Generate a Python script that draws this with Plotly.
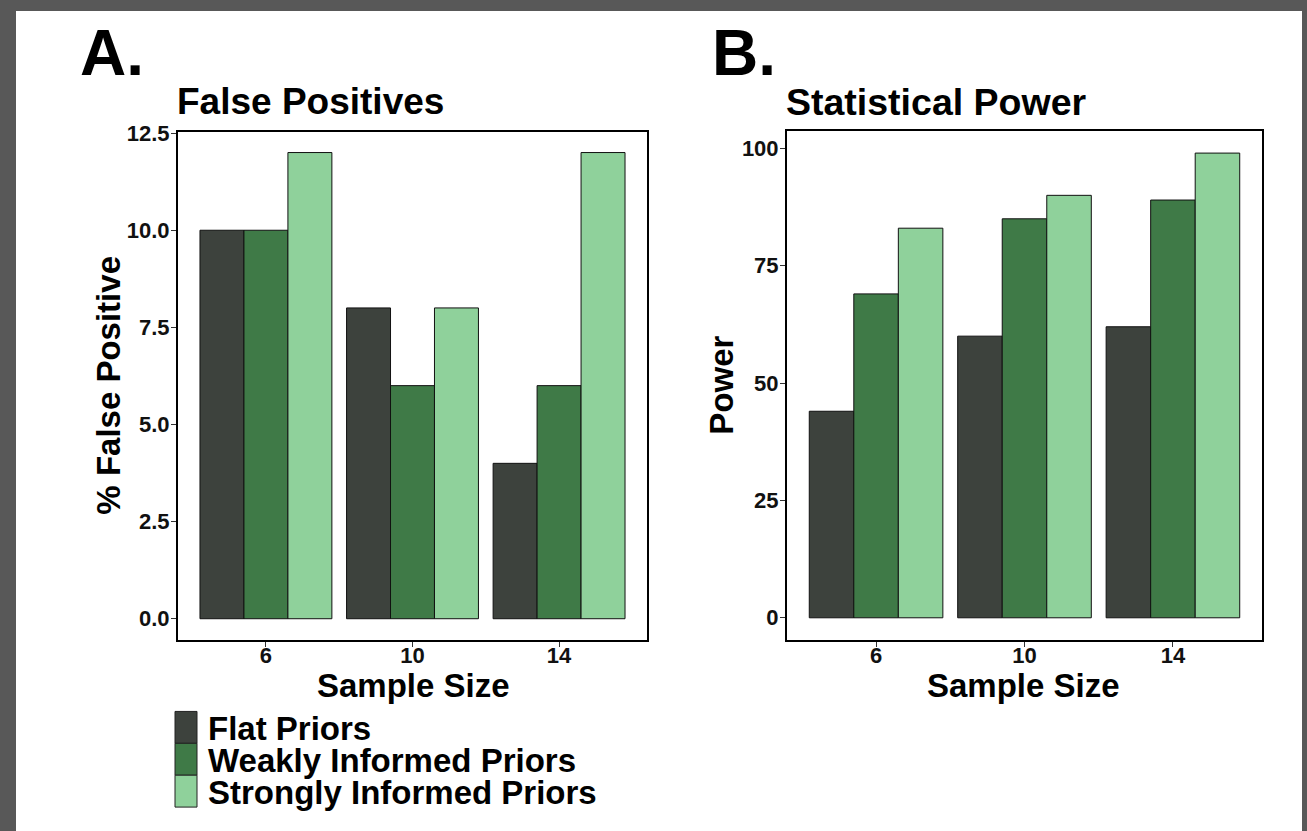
import plotly.graph_objects as go

W, H = 1307, 831

sample_sizes = ["6", "10", "14"]
series_names = ["Flat Priors", "Weakly Informed Priors", "Strongly Informed Priors"]
series_colors = ["#3d423d", "#3f7a47", "#8fd19b"]

fp_flat = [10, 8, 4]
fp_weak = [10, 6, 6]
fp_strong = [12, 8, 12]

pw_flat = [44, 60, 62]
pw_weak = [69, 85, 89]
pw_strong = [83, 90, 99]

fp_ticks = [0, 2.5, 5, 7.5, 10, 12.5]
pw_ticks = [0, 25, 50, 75, 100]

FONT = "Liberation Sans, Arial, sans-serif"


def px(x):
    return x / W


def py(y):
    yc = (y - 8) * 831 / 823
    return (H - yc) / H


fig = go.Figure()

for vals, name, col in zip([fp_flat, fp_weak, fp_strong], series_names, series_colors):
    fig.add_trace(go.Bar(x=sample_sizes, y=vals, name=name, marker=dict(color=col, line=dict(color="#111111", width=1)),
                         xaxis="x", yaxis="y", showlegend=False))
for vals, name, col in zip([pw_flat, pw_weak, pw_strong], series_names, series_colors):
    fig.add_trace(go.Bar(x=sample_sizes, y=vals, name=name, marker=dict(color=col, line=dict(color="#111111", width=1)),
                         xaxis="x2", yaxis="y2", showlegend=False))

axis_common = dict(showline=True, mirror=True, linecolor="black", linewidth=2, showgrid=False, zeroline=False,
                   ticks="outside", ticklen=5, tickwidth=1, tickcolor="#333333",
                   tickfont=dict(family=FONT, size=22, color="#111111", weight="bold"))

fig.update_layout(
    width=W, height=H, margin=dict(l=0, r=0, t=0, b=0),
    paper_bgcolor="#585858", plot_bgcolor="white",
    barmode="group", bargap=0.1, bargroupgap=0,
    xaxis=dict(domain=[px(178), px(647)], anchor="y", type="category", range=[-0.6, 2.6],
               ticklabelstandoff=-10, **axis_common),
    yaxis=dict(domain=[py(639), py(129)], anchor="x", range=[-0.54, 12.54], tickvals=fp_ticks, tickformat=".1f",
               ticklabelstandoff=-3, **axis_common),
    xaxis2=dict(domain=[px(787), px(1262)], anchor="y2", type="category", range=[-0.6, 2.6],
                ticklabelstandoff=-10, **axis_common),
    yaxis2=dict(domain=[py(639), py(128)], anchor="x2", range=[-4.67, 103.8], tickvals=pw_ticks,
                ticklabelstandoff=-3, **axis_common),
    showlegend=False,
)

# white page
fig.add_shape(type="rect", xref="paper", yref="paper", x0=px(16), x1=px(1302), y0=0, y1=min(1.0, py(4)),
              fillcolor="white", line=dict(width=0), layer="below")


def txt(x, y, s, size, xanchor="center", angle=0):
    fig.add_annotation(x=px(x), y=py(y), xref="paper", yref="paper", text=s, showarrow=False,
                       xanchor=xanchor, yanchor="middle", textangle=angle,
                       font=dict(family=FONT, size=size, color="black", weight="bold"))


txt(78, 50, "A.", 64, xanchor="left")
txt(710, 50, "B.", 64, xanchor="left")
txt(175, 99, "False Positives", 37, xanchor="left")
txt(784, 99, "Statistical Power", 37.5, xanchor="left")
txt(109, 384, "% False Positive", 33, angle=-90)
txt(722, 384, "Power", 33, angle=-90)
txt(413, 685, "Sample Size", 33)
txt(1023, 685, "Sample Size", 33)

# legend
row_top = 711
row_h = 32
for i, (name, col) in enumerate(zip(series_names, series_colors)):
    y0 = row_top + i * row_h
    fig.add_shape(type="rect", xref="paper", yref="paper", x0=px(175), x1=px(197), y0=py(y0 + row_h), y1=py(y0),
                  fillcolor=col, line=dict(color="#222222", width=1))
    txt(206, y0 + row_h / 2 + 1, name, 33, xanchor="left")

fig.write_html("out.html")
